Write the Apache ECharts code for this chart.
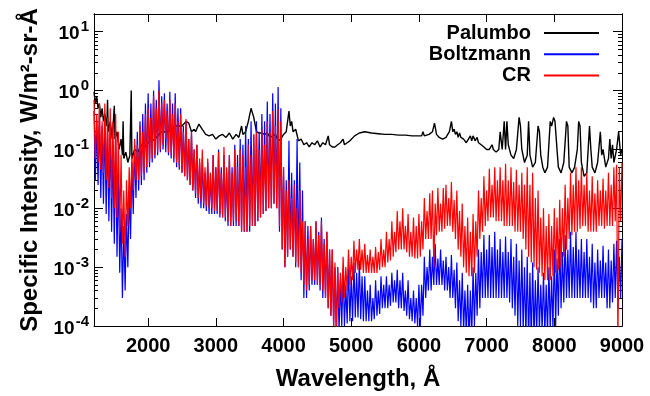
<!DOCTYPE html>
<html><head><meta charset="utf-8">
<script src="https://cdn.jsdelivr.net/npm/echarts@6/dist/echarts.min.js"></script>
<style>html,body{margin:0;padding:0;background:#fff}#c{width:650px;height:396px}</style>
</head><body><div id="c"></div>
<script>
// ---- tick labels ----
const xTickValues = [2000, 3000, 4000, 5000, 6000, 7000, 8000, 9000];
const yDecades = [1e-4, 1e-3, 1e-2, 1e-1, 1, 10];
const yMinor = [2e-4,3e-4,4e-4,5e-4,6e-4,7e-4,8e-4,9e-4,
  2e-3,3e-3,4e-3,5e-3,6e-3,7e-3,8e-3,9e-3,
  0.02,0.03,0.04,0.05,0.06,0.07,0.08,0.09,
  0.2,0.3,0.4,0.5,0.6,0.7,0.8,0.9,
  2,3,4,5,6,7,8,9];
const seriesNames = ['Palumbo', 'Boltzmann', 'CR'];

// ---- shared sampling grid for Boltzmann / CR (Å) ----
const gridStart = 1200, gridStep = 20;

// ---- CR (red) values on the grid, one row per 400 Å ----
const crValues = [
  .7,.07,.4,.06,.6,.045,.3,.04,.6,.03,.35,.022,.5,.015,.3,.01,.4,.007,.2,.004,
  .08,.0025,.02,.0015,.03,.005,.05,.01,.08,.02,.15,.03,.12,.03,.25,.035,.2,.04,.4,.05,
  .5,.06,.35,.07,.8,.08,.5,.09,1.0,.1,.6,.12,.7,.15,.45,.09,.7,.08,.4,.07,
  .6,.06,.3,.05,.4,.04,.2,.035,.33,.03,.15,.025,.2,.02,.1,.018,.12,.015,.07,.013,
  .1,.012,.05,.011,.07,.01,.04,.01,.08,.009,.05,.009,.09,.008,.04,.007,.11,.007,.05,.006,
  .08,.005,.04,.006,.1,.006,.05,.005,.1,.004,.08,.004,.05,.004,.12,.005,.08,.005,.18,.005,
  .2,.006,.1,.007,.22,.008,.12,.009,.3,.01,.2,.01,.45,.012,.25,.01,.48,.005,.3,.002,
  .05,.001,.02,.0015,.03,.002,.015,.0015,.025,.0012,.01,.001,.02,.0008,.006,.0005,.006,.0004,.003,.0005,
  .005,.0006,.003,.0006,.006,.0005,.0035,.0005,.006,.0004,.0025,.0003,.004,.0002,.002,.00015,.002,.0001,.0012,.00005,
  .001,.0002,.0008,.00025,.0015,.0003,.001,.0004,.002,.0005,.0015,.0006,.0028,.0008,.002,.0009,.003,.0009,.002,.0008,
  .0025,.0008,.0016,.0008,.002,.0008,.0015,.0008,.0022,.0008,.0018,.0009,.003,.001,.002,.001,.004,.0012,.003,.0013,
  .006,.0015,.004,.0018,.009,.002,.006,.002,.01,.002,.005,.0018,.008,.0015,.004,.0015,.007,.0014,.005,.0014,
  .008,.0015,.006,.002,.015,.003,.009,.003,.018,.003,.02,.001,.012,.0035,.022,.004,.012,.004,.022,.0045,
  .025,.005,.015,.005,.028,.004,.014,.003,.02,.002,.009,.0015,.012,.001,.005,.0008,.007,.0007,.004,.0007,
  .008,.0008,.006,.0015,.02,.003,.015,.004,.035,.005,.02,.006,.047,.007,.025,.007,.05,.006,.03,.006,
  .05,.006,.03,.005,.057,.005,.03,.005,.05,.005,.028,.004,.045,.004,.025,.004,.04,.003,.025,.002,
  .05,.0015,.025,.0012,.04,.001,.015,.0009,.02,.0008,.007,.0007,.01,.0006,.005,.0006,.008,.0006,.005,.0007,
  .01,.0008,.007,.0009,.014,.001,.01,.0015,.025,.002,.015,.003,.04,.0035,.025,.004,.05,.004,.03,.0045,
  .05,.005,.025,.005,.04,.004,.02,.004,.035,.004,.018,.004,.03,.005,.02,.005,.032,.0045,.02,.005,
  .04,.005,.025,.005,.05,.006,.055,.00005,.05,.006,.06
];

// ---- Boltzmann (blue) values on the grid, one row per 400 Å ----
const boltzValues = [
  .45,.03,.3,.025,.4,.015,.25,.012,.3,.008,.2,.006,.25,.004,.12,.0025,.15,.0015,.05,.0008,
  .01,.0003,.005,.0004,.008,.001,.02,.003,.06,.008,.12,.015,.2,.02,.3,.025,.4,.03,.6,.04,
  .9,.05,.6,.06,1.0,.07,.7,.08,1.5,.09,.8,.1,.9,.09,.6,.08,.95,.07,.6,.06,
  .9,.05,.5,.045,.5,.04,.25,.035,.3,.03,.15,.025,.2,.02,.1,.015,.12,.012,.06,.01,
  .07,.01,.04,.009,.06,.008,.04,.008,.08,.008,.05,.008,.1,.007,.05,.007,.08,.006,.04,.005,
  .08,.005,.05,.005,.12,.005,.08,.005,.15,.004,.12,.004,.25,.004,.15,.004,.3,.005,.18,.005,
  .3,.006,.2,.007,.4,.008,.3,.009,.65,.01,.4,.01,.9,.012,.6,.01,1.15,.004,.5,.002,
  .05,.001,.03,.0015,.14,.002,.04,.0015,.03,.001,.15,.001,.06,.0006,.02,.0003,.006,.0003,.005,.0004,
  .005,.0005,.003,.0005,.006,.0005,.004,.0004,.007,.0003,.003,.0003,.004,.0002,.002,.00015,.002,.0001,.001,.00008,
  .001,.00008,.0006,.0001,.0009,.0001,.0005,.00011,.0011,.00012,.0007,.00012,.0012,.00014,.0008,.00014,.0013,.00013,.0007,.00012,
  .0007,.00012,.0004,.00012,.0005,.00012,.0003,.00013,.0006,.00015,.0004,.00016,.0007,.0002,.0005,.0002,.0007,.0002,.0005,.00022,
  .0008,.00025,.0006,.00025,.0009,.0002,.0006,.0002,.0008,.00018,.0004,.00015,.0006,.00013,.0003,.00012,.0004,.00011,.0003,.0001,
  .0005,.0001,.0005,.00015,.0015,.0003,.001,.0004,.002,.0004,.0015,.0005,.0025,.0005,.0014,.0005,.002,.0005,.0013,.0004,
  .0015,.0004,.001,.0003,.0016,.0003,.0009,.0002,.0012,.00012,.0006,.0001,.0008,.00008,.0004,.00007,.0005,.00006,.0004,.00006,
  .001,.0001,.0008,.00015,.002,.0002,.0018,.0003,.0035,.0003,.002,.0003,.0035,.0003,.0022,.0003,.004,.0003,.002,.0003,
  .003,.0003,.0018,.0003,.0033,.0003,.0018,.00025,.003,.0002,.0015,.00015,.0025,.0001,.0013,.0001,.002,.00008,.001,.00006,
  .0015,.00005,.0008,.00005,.0012,.00006,.0006,.00007,.001,.00008,.0005,.00008,.0008,.00007,.0005,.00007,.001,.00008,.0007,.00009,
  .002,.0001,.0014,.00015,.003,.0002,.0018,.00025,.0035,.0003,.002,.0003,.004,.0003,.0022,.0003,.004,.0003,.002,.0003,
  .003,.0003,.0018,.0003,.003,.0003,.0015,.00025,.0025,.0002,.0012,.0002,.002,.0003,.0013,.0003,.0023,.0003,.0012,.0002,
  .002,.0002,.0013,.00025,.0025,.0003,.0028,.0002,.0015,.0003,.003
];

// ---- Palumbo (black) ----
const palumboWl = [1200,1220,1240,1260,1280,1300,1320,1340,1360,1390,1400,1410,1440,1470,1500,1510,1540,1570,1600,1620,1630,1640,1670,1700,1730,1750,1760,1800,1850,1900,1950,2000,2100,2200,2300,2400,2500,2560,2600,2640,2680,2700,2750,2800,2850,2900,2950,3000,3050,3100,3150,3200,3250,3300,3340,3380,3400,3440,3480,3520,3560,3600,3640,3680,3720,3760,3800,3840,3880,3920,3960,4000,4040,4080,4100,4120,4140,4180,4220,4260,4300,4340,4380,4420,4460,4500,4540,4580,4620,4660,4680,4720,4760,4800,4840,4880,4900,4940,4980,5050,5120,5200,5300,5400,5500,5600,5700,5800,5900,6000,6040,6060,6080,6150,6200,6230,6260,6300,6350,6400,6450,6480,6500,6520,6540,6560,6580,6600,6620,6660,6700,6720,6760,6780,6800,6830,6860,6880,6920,6960,7000,7040,7080,7100,7140,7180,7200,7230,7260,7280,7300,7320,7360,7400,7440,7480,7500,7520,7560,7600,7620,7640,7680,7720,7760,7780,7800,7830,7860,7900,7940,7960,7990,8010,8040,8060,8100,8140,8180,8200,8220,8260,8300,8340,8360,8380,8400,8440,8480,8520,8540,8560,8600,8640,8680,8700,8720,8760,8800,8820,8840,8860,8880,8920,8950,8980,9000];
const palumboValues = [.95,.6,.8,.5,.6,.35,.5,.3,.4,.25,.7,.2,.3,.15,.55,.15,.2,.1,.15,.08,.3,.07,.09,.06,.08,1.0,.07,.1,.09,.12,.11,.13,.15,.2,.2,.25,.25,.3,.28,.2,.22,.2,.27,.22,.18,.17,.18,.15,.17,.18,.16,.19,.15,.18,.16,.25,.18,.2,.3,.5,.35,.2,.19,.19,.18,.19,.16,.17,.18,.14,.15,.18,.2,.45,.25,.3,.2,.22,.14,.15,.12,.13,.11,.13,.12,.14,.11,.13,.12,.17,.12,.11,.11,.12,.13,.15,.12,.13,.14,.17,.19,.2,.19,.185,.18,.18,.175,.175,.17,.17,.17,.2,.17,.18,.2,.28,.18,.16,.15,.16,.2,.3,.2,.22,.18,.2,.16,.19,.16,.15,.13,.13,.17,.14,.17,.14,.16,.13,.12,.11,.1,.1,.12,.1,.09,.1,.2,.1,.3,.1,.3,.12,.08,.07,.1,.35,.25,.1,.06,.08,.3,.08,.05,.06,.25,.2,.08,.05,.04,.05,.3,.25,.35,.3,.1,.05,.04,.06,.3,.25,.05,.04,.05,.1,.3,.25,.06,.035,.04,.25,.1,.05,.04,.06,.2,.08,.1,.05,.07,.15,.07,.12,.06,.1,.2,.08,.1];

function gridPairs(vals) {
  return vals.map((v, i) => [gridStart + i * gridStep, v]);
}
const palumboData = palumboWl.map((w, i) => [w, palumboValues[i]]);

const FONT = '"Liberation Sans", Arial, sans-serif';
const chart = echarts.init(document.getElementById('c'), null, {renderer: 'canvas'});

const yLabelRich = {
  b: {fontSize: 19, fontWeight: 'bold', fontFamily: FONT, color: '#000', lineHeight: 24, verticalAlign: 'bottom'},
  e: {fontSize: 15, fontWeight: 'bold', fontFamily: FONT, color: '#000', lineHeight: 14, verticalAlign: 'top', padding: [0, 0, 0, 1]}
};

function logAxis(pos, tickVals, len, withLabels) {
  return {
    type: 'log', logBase: 10, min: 1e-4, max: 20, position: pos,
    axisLine: {show: true, onZero: false, lineStyle: {color: '#000', width: 1}},
    axisTick: {show: true, inside: true, length: len, customValues: tickVals, lineStyle: {color: '#000', width: 1}},
    axisLabel: withLabels ? {
      show: true, customValues: yDecades, margin: 5,
      formatter: v => '{b|10}{e|' + Math.round(Math.log10(v)) + '}',
      rich: yLabelRich
    } : {show: false},
    splitLine: {show: false},
    minorTick: {show: false}
  };
}

const option = {
  animation: false,
  backgroundColor: '#fff',
  grid: {left: 94, right: 28, top: 14, bottom: 68, show: false},
  legend: {
    orient: 'vertical', right: 46, top: 18, align: 'right',
    itemWidth: 55, itemHeight: 2, itemGap: 1.3, icon: 'rect',
    data: seriesNames,
    textStyle: {fontFamily: FONT, fontWeight: 'bold', fontSize: 20, color: '#000', lineHeight: 17, padding: [0, 8, 0, 0]}
  },
  xAxis: [
    {
      type: 'value', min: 1200, max: 9000, position: 'bottom',
      axisLine: {show: true, onZero: false, lineStyle: {color: '#000', width: 1}},
      axisTick: {show: true, inside: true, length: 8, customValues: xTickValues, lineStyle: {color: '#000'}},
      axisLabel: {show: true, customValues: xTickValues, margin: 10, formatter: v => String(v),
        fontFamily: FONT, fontWeight: 'bold', fontSize: 20, color: '#000'},
      splitLine: {show: false},
      name: 'Wavelength, Å', nameLocation: 'middle', nameGap: 41,
      nameTextStyle: {fontFamily: FONT, fontWeight: 'bold', fontSize: 24, color: '#000'}
    },
    {
      type: 'value', min: 1200, max: 9000, position: 'top',
      axisLine: {show: true, onZero: false, lineStyle: {color: '#000', width: 1}},
      axisTick: {show: true, inside: true, length: 8, customValues: xTickValues, lineStyle: {color: '#000'}},
      axisLabel: {show: false}, splitLine: {show: false}
    }
  ],
  yAxis: [
    Object.assign(logAxis('left', yDecades, 9, true), {
      name: 'Specific Intensity, W/m²-sr-Å', nameLocation: 'middle', nameRotate: 90, nameGap: 51,
      nameTextStyle: {fontFamily: FONT, fontWeight: 'bold', fontSize: 24, color: '#000'}
    }),
    logAxis('left', yMinor, 4, false),
    logAxis('right', yDecades, 9, false),
    logAxis('right', yMinor, 4, false)
  ],
  series: [
    {name: 'Palumbo', type: 'line', data: palumboData, symbol: 'none', clip: true,
     lineStyle: {color: '#000', width: 1.4}, itemStyle: {color: '#000'}},
    {name: 'Boltzmann', type: 'line', data: gridPairs(boltzValues), symbol: 'none', clip: true,
     lineStyle: {color: '#0000ff', width: 1.2}, itemStyle: {color: '#0000ff'}},
    {name: 'CR', type: 'line', data: gridPairs(crValues), symbol: 'none', clip: true,
     lineStyle: {color: '#ff0000', width: 1.2}, itemStyle: {color: '#ff0000'}}
  ]
};
chart.setOption(option);
</script>
</body></html>
